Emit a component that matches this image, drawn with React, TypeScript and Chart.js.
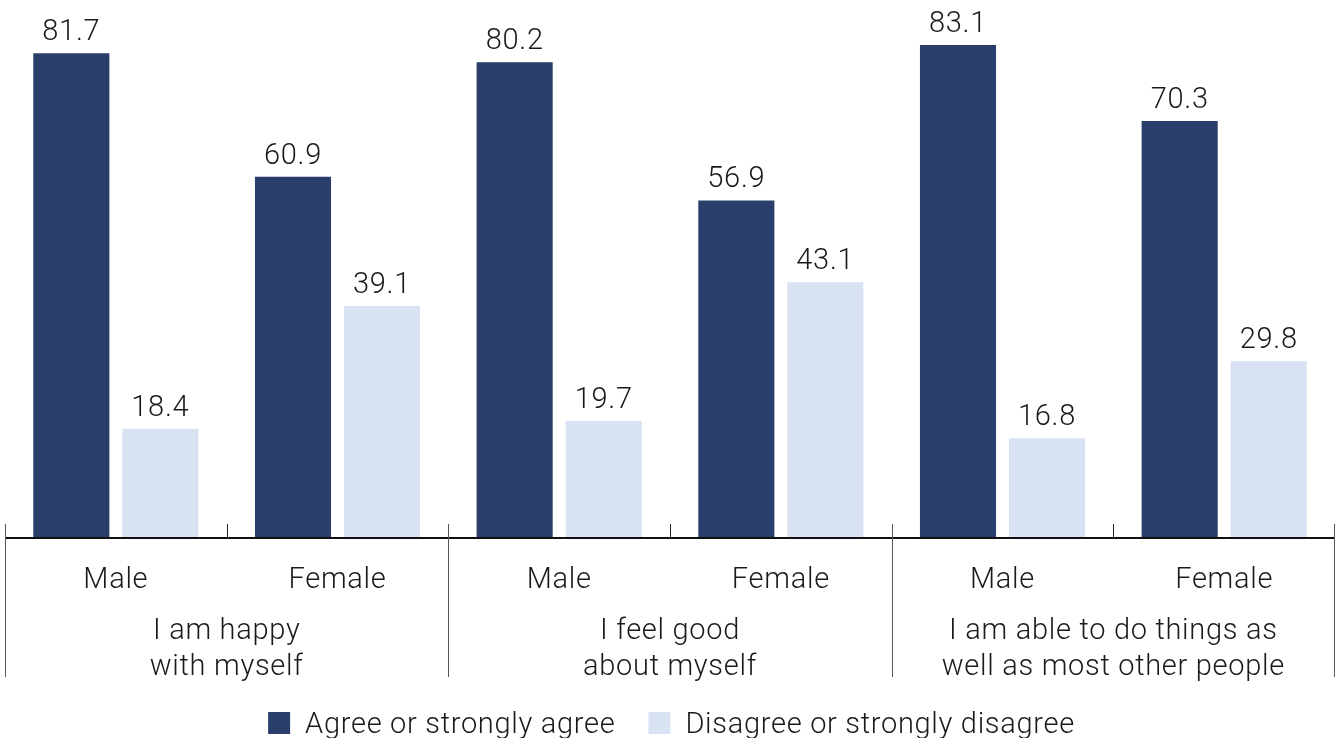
import React, { useEffect, useRef } from "react";
import { Chart, registerables } from "chart.js";

Chart.register(...registerables);

const categories = ["Male", "Female", "Male", "Female", "Male", "Female"];
const groupLabels = [
  ["I am happy", "with myself"],
  ["I feel good", "about myself"],
  ["I am able to do things as", "well as most other people"],
];
const agreeValues = [81.7, 60.9, 80.2, 56.9, 83.1, 70.3];
const disagreeValues = [18.4, 39.1, 19.7, 43.1, 16.8, 29.8];
const seriesNames = ["Agree or strongly agree", "Disagree or strongly disagree"];

const DARK = "#293e6b";
const LIGHT = "#d9e2f3";
const TEXT = "#1a1a1a";
const FONT_FAMILY = "Roboto, 'Liberation Sans', Arial, sans-serif";
const FONT = `300 29px ${FONT_FAMILY}`;
const SPACING = "0.7px";

const decorPlugin = {
  id: "decor",
  afterDatasetsDraw(chart: any) {
    const ctx = chart.ctx;
    const xs = chart.scales.x;
    const area = chart.chartArea;
    ctx.save();
    ctx.font = FONT;
    try {
      (ctx as any).letterSpacing = SPACING;
    } catch (e) {}
    ctx.fillStyle = TEXT;
    ctx.textAlign = "center";
    ctx.textBaseline = "alphabetic";
    // value labels
    chart.data.datasets.forEach((ds: any, di: number) => {
      const meta = chart.getDatasetMeta(di);
      meta.data.forEach((bar: any, i: number) => {
        ctx.fillText(ds.data[i].toFixed(1), bar.x, bar.y - 13);
      });
    });
    const base = area.bottom;
    const n = categories.length;
    const step = (xs.right - xs.left) / n;
    // axis line
    ctx.strokeStyle = "#111";
    ctx.lineWidth = 2;
    ctx.beginPath();
    ctx.moveTo(xs.left, base);
    ctx.lineTo(xs.right, base);
    ctx.stroke();
    // small ticks between male/female
    ctx.lineWidth = 1;
    ctx.strokeStyle = "#222";
    for (let g = 0; g < groupLabels.length; g++) {
      const x = Math.round(xs.left + step * (g * 2 + 1)) + 0.5;
      ctx.beginPath();
      ctx.moveTo(x, base - 14);
      ctx.lineTo(x, base);
      ctx.stroke();
    }
    // group separators
    ctx.strokeStyle = "#555";
    for (let g = 0; g <= groupLabels.length; g++) {
      let x = Math.round(xs.left + step * g * 2) + 0.5;
      if (g === groupLabels.length) x -= 1;
      ctx.beginPath();
      ctx.moveTo(x, base - 14);
      ctx.lineTo(x, base + 139);
      ctx.stroke();
    }
    // category labels
    categories.forEach((c, i) => {
      ctx.fillText(c, xs.getPixelForValue(i), base + 50);
    });
    // group labels
    groupLabels.forEach((lines, g) => {
      const cx = (xs.getPixelForValue(g * 2) + xs.getPixelForValue(g * 2 + 1)) / 2;
      lines.forEach((l, li) => {
        ctx.fillText(l, cx, base + 101 + li * 36);
      });
    });
    // legend
    const colors = [DARK, LIGHT];
    const box = 22;
    const gapBoxText = 15;
    const gapItems = 33;
    const widths = seriesNames.map((s) => box + gapBoxText + ctx.measureText(s).width);
    const total = widths[0] + widths[1] + gapItems;
    let x = chart.width / 2 - total / 2;
    const ly = 712;
    ctx.textAlign = "left";
    seriesNames.forEach((s, i) => {
      ctx.fillStyle = colors[i];
      ctx.fillRect(x, ly, box, box);
      ctx.fillStyle = TEXT;
      ctx.fillText(s, x + box + gapBoxText, ly + 21);
      x += widths[i] + gapItems;
    });
    ctx.restore();
  },
};

export default function App() {
  const ref = useRef<HTMLCanvasElement>(null);
  useEffect(() => {
    document.body.style.margin = "0";
    const chart = new Chart(ref.current!, {
      type: "bar",
      data: {
        labels: categories,
        datasets: [
          { label: seriesNames[0], data: agreeValues, backgroundColor: DARK },
          { label: seriesNames[1], data: disagreeValues, backgroundColor: LIGHT },
        ],
      },
      options: {
        animation: false,
        responsive: false,
        devicePixelRatio: 1,
        layout: { padding: { top: 4, bottom: 200, left: 5, right: 8 } },
        datasets: { bar: { categoryPercentage: 0.803, barPercentage: 0.855 } },
        scales: {
          x: { display: false, offset: true },
          y: { display: false, min: 0, max: 90 },
        },
        plugins: {
          legend: { display: false },
          tooltip: { enabled: false },
        },
      },
      plugins: [decorPlugin],
    });
    return () => chart.destroy();
  }, []);
  return (
    <div style={{ position: "fixed", left: 0, top: 0, width: 1343, height: 738, background: "#fff" }}>
      <canvas ref={ref} width={1343} height={738} style={{ width: 1343, height: 738 }} />
    </div>
  );
}
